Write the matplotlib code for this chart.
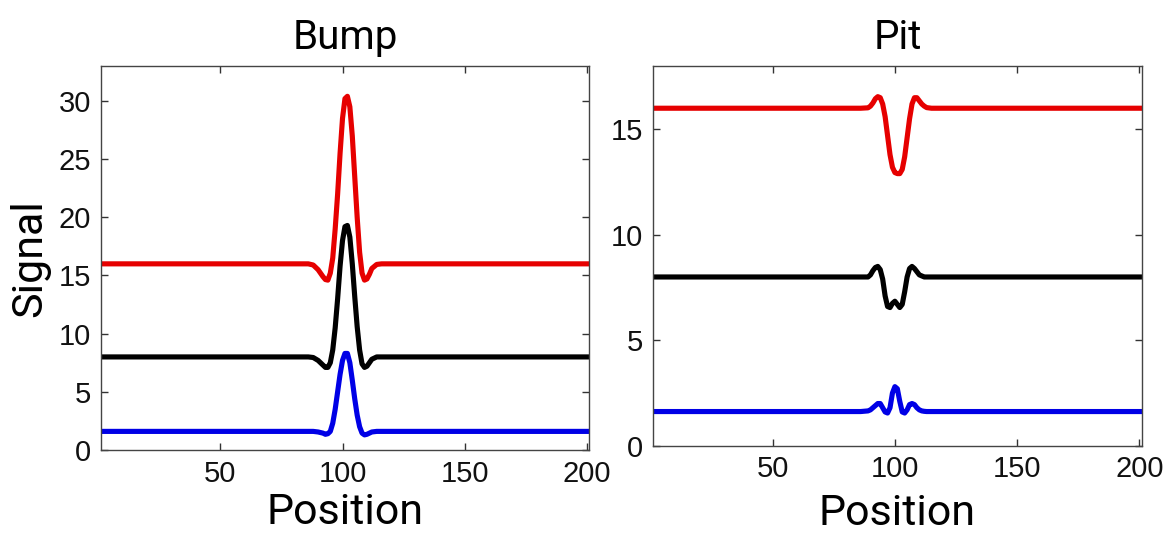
import matplotlib
matplotlib.use("Agg")
import numpy as np
from matplotlib import pyplot as plt

# ---- data ----
# positions run 1..201, all curves are flat outside the window around 100
bump_x = [1, 86, 88, 90, 92, 93, 94, 95, 96, 97, 98, 99, 100, 101, 102, 103,
          104, 105, 106, 107, 108, 109, 110, 111, 112, 114, 116, 201]
bump_red = [16.0, 16.0, 15.9, 15.5, 14.9, 14.65, 14.6, 15.2, 16.5, 19.0, 22.0,
            25.5, 28.5, 30.2, 30.4, 29.5, 27.0, 23.5, 20.0, 17.0, 15.2, 14.6,
            14.7, 15.1, 15.6, 15.95, 16.0, 16.0]
bump_black = [8.0, 8.0, 7.95, 7.7, 7.3, 7.1, 7.1, 7.5, 8.6, 10.5, 13.0, 15.8,
              18.0, 19.2, 19.3, 18.3, 16.0, 13.2, 10.6, 8.6, 7.4, 7.1, 7.2,
              7.5, 7.8, 8.0, 8.0, 8.0]
bump_blue = [1.6, 1.6, 1.6, 1.55, 1.45, 1.35, 1.4, 1.6, 2.3, 3.5, 5.0, 6.5,
             7.7, 8.3, 8.3, 7.5, 6.0, 4.4, 3.0, 2.0, 1.45, 1.3, 1.35, 1.45,
             1.55, 1.6, 1.6, 1.6]

pit_x = [1, 86, 89, 90, 91, 92, 93, 94, 95, 96, 97, 98, 99, 100, 101, 102,
         103, 104, 105, 106, 107, 108, 109, 110, 111, 112, 113, 115, 201]
pit_red = [16.0, 16.0, 16.02, 16.1, 16.25, 16.45, 16.55, 16.5, 16.2, 15.6,
           14.7, 13.8, 13.2, 12.95, 12.9, 12.9, 13.1, 13.7, 14.6, 15.5, 16.2,
           16.5, 16.5, 16.35, 16.2, 16.1, 16.03, 16.0, 16.0]
pit_black = [8.0, 8.0, 8.0, 8.1, 8.3, 8.45, 8.5, 8.35, 7.9, 7.1, 6.6, 6.55,
             6.75, 6.85, 6.7, 6.55, 6.7, 7.3, 8.0, 8.4, 8.5, 8.4, 8.25, 8.1,
             8.05, 8.0, 8.0, 8.0, 8.0]
pit_blue = [1.62, 1.62, 1.65, 1.7, 1.8, 1.9, 2.0, 2.0, 1.8, 1.6, 1.55, 1.8,
            2.5, 2.8, 2.7, 2.1, 1.6, 1.55, 1.7, 1.95, 2.0, 1.95, 1.8, 1.7,
            1.65, 1.63, 1.62, 1.62, 1.62]

x_ticks = [50, 100, 150, 200]
bump_yticks = [0, 5, 10, 15, 20, 25, 30]
pit_yticks = [0, 5, 10, 15]

colors = ['#e60000', '#000000', '#0000e6']

fig = plt.figure(figsize=(11.65, 5.37), dpi=100)
ax1 = fig.add_axes([0.0864, 0.162, 0.4194, 0.715])
ax2 = fig.add_axes([0.5605, 0.170, 0.4195, 0.707])

tick_font = {'family': 'Liberation Sans', 'size': 21}
label_font = {'family': 'Roboto', 'size': 31}

def setup(ax, title, yticks, ytop, lpad):
    ax.set_xlim(1, 201)
    ax.set_ylim(0, ytop)
    ax.set_xticks(x_ticks)
    ax.set_yticks(yticks)
    ax.tick_params(direction='in', length=5, width=1, top=True, right=True,
                   color='#333333', pad=7)
    for lab in ax.get_xticklabels() + ax.get_yticklabels():
        lab.set_fontfamily(tick_font['family'])
        lab.set_fontsize(tick_font['size'])
        lab.set_color('#111111')
    for sp in ax.spines.values():
        sp.set_color('#444444')
        sp.set_linewidth(1.0)
    ax.set_title(title, fontfamily='Roboto', fontsize=29, pad=12)
    ax.set_xlabel('Position', fontdict=label_font, labelpad=lpad)

for ys, c in zip([bump_red, bump_black, bump_blue], colors):
    ax1.plot(bump_x, ys, color=c, lw=3.7, solid_joinstyle='round')
for ys, c in zip([pit_red, pit_black, pit_blue], colors):
    ax2.plot(pit_x, ys, color=c, lw=3.7, solid_joinstyle='round')

setup(ax1, 'Bump', bump_yticks, 33, 3)
setup(ax2, 'Pit', pit_yticks, 18, 7)
ax1.set_ylabel('Signal', fontdict=label_font, labelpad=6)

fig.savefig('out.png', dpi=100)
